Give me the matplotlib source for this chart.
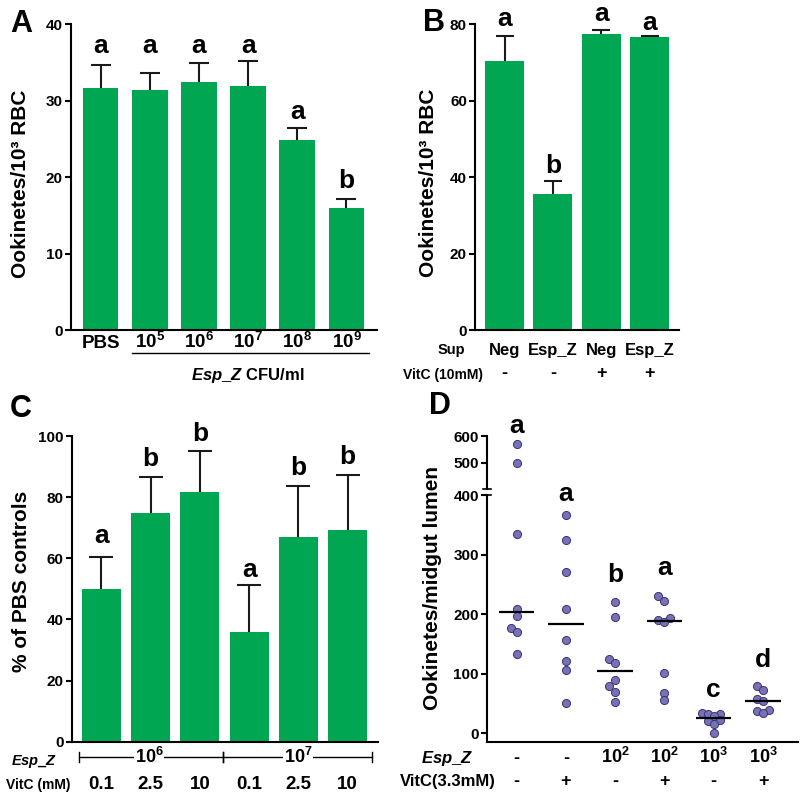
import numpy as np
import matplotlib
matplotlib.use('Agg')
import matplotlib.pyplot as plt
from matplotlib import transforms as mtransforms

plt.rcParams['font.family'] = ['Liberation Sans', 'DejaVu Sans']
plt.rcParams['font.weight'] = 'bold'
plt.rcParams['mathtext.fontset'] = 'custom'
plt.rcParams['mathtext.rm'] = 'Liberation Sans:bold'
plt.rcParams['mathtext.it'] = 'Liberation Sans:bold:italic'
plt.rcParams['mathtext.bf'] = 'Liberation Sans:bold'

# ---------------- data ----------------
a_labels = ['PBS', r'10$^{5}$', r'10$^{6}$', r'10$^{7}$', r'10$^{8}$', r'10$^{9}$']
a_means = [31.7, 31.4, 32.5, 31.9, 24.9, 15.9]
a_errs = [3.0, 2.2, 2.4, 3.3, 1.5, 1.3]
a_letters = ['a', 'a', 'a', 'a', 'a', 'b']
a_letter_y = [36.3, 36.3, 36.3, 36.3, 27.6, 18.6]

b_sup = ['Neg', 'Esp_Z', 'Neg', 'Esp_Z']
b_vitc = ['-', '-', '+', '+']
b_means = [70.3, 35.7, 77.5, 76.7]
b_errs = [6.6, 3.3, 1.1, 0.2]
b_letters = ['a', 'b', 'a', 'a']
b_letter_y = [79.5, 41.1, 80.9, 78.6]

c_esp_groups = [r'10$^{6}$', r'10$^{7}$']
c_vitc = ['0.1', '2.5', '10', '0.1', '2.5', '10']
c_means = [50.1, 74.8, 81.8, 35.8, 67.1, 69.2]
c_errs = [10.3, 11.9, 13.3, 15.3, 16.4, 17.9]
c_letters = ['a', 'b', 'b', 'a', 'b', 'b']
c_letter_y = [64.9, 90.2, 98.5, 54.0, 87.2, 90.7]

d_esp = ['-', '-', r'10$^{2}$', r'10$^{2}$', r'10$^{3}$', r'10$^{3}$']
d_vitc = ['-', '+', '-', '+', '-', '+']
d_points = [
    [570, 497, 335, 209, 197, 177, 170, 134],
    [366, 325, 271, 209, 157, 122, 106, 51],
    [221, 195, 125, 119, 89, 79, 70, 53],
    [231, 222, 193, 191, 187, 101, 67, 56],
    [35, 33, 32, 29, 22, 20, 15, 0],
    [80, 72, 58, 54, 39, 38, 34],
]
d_letters = ['a', 'a', 'b', 'a', 'c', 'd']
d_letter_y = [611, 391, 254, 266, 61, 112]

GREEN = '#00A651'
DOT = '#7771B6'
DOT_EDGE = '#3A3575'
ERR = '#1a1a1a'

fig = plt.figure(figsize=(8, 8), dpi=100)


def box(l, t, r, b):
    return [l / 800, 1 - b / 800, (r - l) / 800, (b - t) / 800]


def fy(y):
    return 1 - y / 800


def style(ax):
    for s in ['top', 'right']:
        ax.spines[s].set_visible(False)
    for s in ['left', 'bottom']:
        ax.spines[s].set_linewidth(1.5)
    ax.tick_params(axis='y', direction='out', length=4.3, width=1.5,
                   labelsize=11, pad=1.5)
    ax.tick_params(axis='x', length=0, labelbottom=False)
    for lab in ax.get_yticklabels():
        lab.set_fontweight('bold')


def bars(ax, means, errs, width, capsize):
    x = np.arange(len(means))
    ax.bar(x, means, width=width, color=GREEN, zorder=2)
    _, caps, _ = ax.errorbar(x, means, yerr=[np.zeros(len(errs)), errs],
                             fmt='none', ecolor=ERR, elinewidth=1.5,
                             capsize=capsize, capthick=1.5, zorder=1)
    for cap in caps:
        if np.allclose(cap.get_ydata(), means):
            cap.set_visible(False)
    return x


def letters(ax, x, labs, ys):
    for xi, l, y in zip(x, labs, ys):
        ax.text(xi, y, l, ha='center', va='baseline', fontsize=19,
                fontweight='bold', clip_on=False)


def row(ax, x, labs, ypix, fs):
    tr = mtransforms.blended_transform_factory(ax.transData, fig.transFigure)
    for xi, l in zip(x, labs):
        ax.text(xi, fy(ypix), l, transform=tr, ha='center', va='baseline',
                fontsize=fs, fontweight='bold')


# ---------------- Panel A ----------------
axA = fig.add_axes(box(70.7, 24.3, 376.7, 330))
xA = bars(axA, a_means, a_errs, 0.725, 7.4)
axA.set_xlim(-0.606, 5.614)
axA.set_ylim(0, 40)
axA.set_yticks([0, 10, 20, 30, 40])
style(axA)
letters(axA, xA, a_letters, a_letter_y)
row(axA, xA, a_labels, 348.3, 13.5)
trA = mtransforms.blended_transform_factory(axA.transData, fig.transFigure)
axA.plot([0.65, 5.45], [fy(352.7), fy(352.7)], transform=trA, color='k',
         lw=1.0, clip_on=False)
axA.text(3.0, fy(380), r'$\mathit{Esp\_Z}$ CFU/ml', transform=trA,
         ha='center', va='baseline', fontsize=12, fontweight='bold')
fig.text(21 / 800, fy(184), 'Ookinetes/10³ RBC', rotation=90, ha='center',
         va='center', fontsize=15, fontweight='bold')
fig.text(10 / 800, fy(31.7), 'A', fontsize=22, fontweight='bold',
         ha='left', va='baseline')

# ---------------- Panel B ----------------
axB = fig.add_axes(box(475, 24.3, 679.3, 330))
xB = bars(axB, b_means, b_errs, 0.806, 6.6)
axB.set_xlim(-0.61, 3.61)
axB.set_ylim(0, 80)
axB.set_yticks([0, 20, 40, 60, 80])
style(axB)
letters(axB, xB, b_letters, b_letter_y)
row(axB, xB, b_sup, 355, 12)
row(axB, xB, b_vitc, 377.5, 13)
fig.text(451.5 / 800, fy(354), 'Sup', ha='center', va='baseline',
         fontsize=10.5, fontweight='bold')
fig.text(443 / 800, fy(379), 'VitC (10mM)', ha='center', va='baseline',
         fontsize=10, fontweight='bold')
fig.text(429 / 800, fy(183), 'Ookinetes/10³ RBC', rotation=90, ha='center',
         va='center', fontsize=15, fontweight='bold')
fig.text(422.7 / 800, fy(30.7), 'B', fontsize=22, fontweight='bold',
         ha='left', va='baseline')

# ---------------- Panel C ----------------
axC = fig.add_axes(box(71.7, 436, 378.3, 741.7))
xC = bars(axC, c_means, c_errs, 0.79, 8.4)
axC.set_xlim(-0.6, 5.62)
axC.set_ylim(0, 100)
axC.set_yticks([0, 20, 40, 60, 80, 100])
style(axC)
letters(axC, xC, c_letters, c_letter_y)
row(axC, xC, c_vitc, 789.3, 13.5)
trC = mtransforms.blended_transform_factory(axC.transData, fig.transFigure)
for (lo, hi), lab, xc in zip([(-0.46, 2.47), (2.47, 5.5)], c_esp_groups,
                             [0.97, 4.0]):
    axC.plot([lo, hi], [fy(757), fy(757)], transform=trC, color='k', lw=1.0,
             clip_on=False)
    for xe in (lo, hi):
        axC.plot([xe, xe], [fy(752), fy(762)], transform=trC, color='k',
                 lw=1.0, clip_on=False)
    axC.text(xc, fy(763.3), lab, transform=trC, ha='center', va='baseline',
             fontsize=13, fontweight='bold',
             bbox=dict(facecolor='white', edgecolor='none', pad=0.5))
fig.text(34 / 800, fy(765), r'$\mathit{Esp\_Z}$', ha='center', va='baseline',
         fontsize=10.5, fontweight='bold')
fig.text(38 / 800, fy(789.5), 'VitC (mM)', ha='center', va='baseline',
         fontsize=10, fontweight='bold')
fig.text(22 / 800, fy(581), '% of PBS controls', rotation=90, ha='center',
         va='center', fontsize=15, fontweight='bold')
fig.text(10 / 800, fy(417), 'C', fontsize=22, fontweight='bold',
         ha='left', va='baseline')

# ---------------- Panel D ----------------
axD = fig.add_axes(box(487, 436, 798, 741.7))


def fwd(y):
    y = np.asarray(y, dtype=float)
    return np.where(y <= 400, y, 410 + (y - 400) * 0.447)


def inv(u):
    u = np.asarray(u, dtype=float)
    return np.where(u <= 400, u,
                    np.where(u < 410, 400, 400 + (u - 410) / 0.447))


axD.set_yscale('function', functions=(fwd, inv))
axD.set_xlim(-0.6, 5.71)
axD.set_ylim(-14, 600)
axD.set_yticks([0, 100, 200, 300, 400, 500, 600])
axD.yaxis.set_minor_locator(matplotlib.ticker.NullLocator())
style(axD)
axD.spines['left'].set_bounds(-14, 400)
trD = mtransforms.blended_transform_factory(axD.transAxes, axD.transData)
axD.plot([0, 0], [400.0001, 600], transform=trD, color='k', lw=1.5,
         clip_on=False, solid_capstyle='projecting')
for yb in (400, 400.0001):
    axD.plot([-0.013, 0.013], [yb, yb], transform=trD, color='k', lw=1.2,
             clip_on=False)


def swarm(ax, xc, vals, step_px=6.0, min_d=5.6):
    vals = np.asarray(vals, dtype=float)
    pts = ax.transData.transform(np.column_stack([np.full(len(vals), xc), vals]))
    ys = pts[:, 1]
    order = np.argsort(vals)
    placed = []
    offs = np.zeros(len(vals))
    cands = [0] + [s * k for k in range(1, 6) for s in (-1, 1)]
    for i in order:
        chosen = cands[-1]
        for c in cands:
            if all((c * step_px - ox) ** 2 + (ys[i] - oy) ** 2 >= min_d ** 2
                   for ox, oy in placed):
                chosen = c
                break
        offs[i] = chosen * step_px
        placed.append((chosen * step_px, ys[i]))
    x0 = ax.transData.transform((0, 0))[0]
    x1 = ax.transData.transform((1, 0))[0]
    return xc + offs / (x1 - x0)


for gi, vals in enumerate(d_points):
    xs = swarm(axD, gi, vals)
    axD.scatter(xs, vals, s=34, color=DOT, edgecolor=DOT_EDGE, linewidth=0.7,
                zorder=2, clip_on=False)
    axD.hlines(np.median(vals), gi - 0.36, gi + 0.36, color='k', lw=1.6,
               zorder=3)
xD = np.arange(len(d_points))
letters(axD, xD, d_letters, d_letter_y)
row(axD, xD, d_esp, 763, 13)
row(axD, xD, d_vitc, 786, 13)
fig.text(447 / 800, fy(763), r'$\mathit{Esp\_Z}$', ha='center', va='baseline',
         fontsize=12, fontweight='bold')
fig.text(448 / 800, fy(786), 'VitC(3.3mM)', ha='center', va='baseline',
         fontsize=12, fontweight='bold')
fig.text(433 / 800, fy(588), 'Ookinetes/midgut lumen', rotation=90,
         ha='center', va='center', fontsize=15, fontweight='bold')
fig.text(429 / 800, fy(414), 'D', fontsize=22, fontweight='bold',
         ha='left', va='baseline')

fig.savefig('out.png', dpi=100)
